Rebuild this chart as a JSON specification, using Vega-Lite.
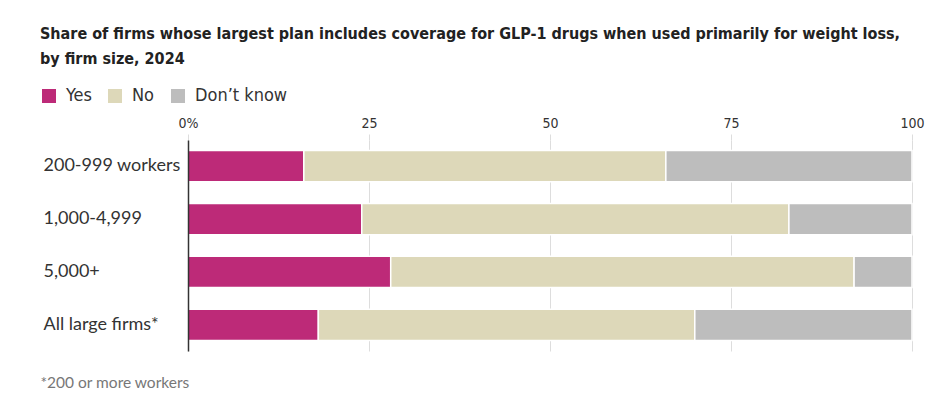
{
  "$schema": "https://vega.github.io/schema/vega-lite/v6.json",
  "width": 724,
  "height": 211,
  "autosize": {"type": "none"},
  "padding": {"left": 188, "top": 140, "right": 26, "bottom": 68},
  "background": "white",
  "title": {
    "text": ["Share of firms whose largest plan includes coverage for GLP-1 drugs when used primarily for weight loss,", "by firm size, 2024"],
    "anchor": "start",
    "frame": "group",
    "dx": -148,
    "offset": 20,
    "font": "DejaVu Sans Condensed",
    "fontSize": 16,
    "fontWeight": "bold",
    "color": "#222222",
    "lineHeight": 25
  },
  "data": {
    "values": [
      {"size": "200-999 workers", "answer": "Yes", "value": 16, "ord": 1},
      {"size": "200-999 workers", "answer": "No", "value": 50, "ord": 2},
      {"size": "200-999 workers", "answer": "Don’t know", "value": 34, "ord": 3},
      {"size": "1,000-4,999", "answer": "Yes", "value": 24, "ord": 1},
      {"size": "1,000-4,999", "answer": "No", "value": 59, "ord": 2},
      {"size": "1,000-4,999", "answer": "Don’t know", "value": 17, "ord": 3},
      {"size": "5,000+", "answer": "Yes", "value": 28, "ord": 1},
      {"size": "5,000+", "answer": "No", "value": 64, "ord": 2},
      {"size": "5,000+", "answer": "Don’t know", "value": 8, "ord": 3},
      {"size": "All large firms*", "answer": "Yes", "value": 18, "ord": 1},
      {"size": "All large firms*", "answer": "No", "value": 52, "ord": 2},
      {"size": "All large firms*", "answer": "Don’t know", "value": 30, "ord": 3}
    ]
  },
  "mark": {"type": "bar", "stroke": "white", "strokeWidth": 1.5},
  "encoding": {
    "y": {
      "field": "size",
      "type": "nominal",
      "sort": ["200-999 workers", "1,000-4,999", "5,000+", "All large firms*"],
      "scale": {"paddingInner": 0.41, "paddingOuter": 0.2},
      "axis": {
        "zindex": 1,
        "title": "*200 or more workers",
        "titleAngle": 0,
        "titleAlign": "left",
        "titleBaseline": "middle",
        "titleX": -148,
        "titleY": 242,
        "titleFont": "Lato",
        "titleFontSize": 15.5,
        "titleFontWeight": "normal",
        "titleColor": "#777777",
        "ticks": false,
        "labelAlign": "left",
        "labelPadding": 145,
        "labelFont": "Lato",
        "labelFontSize": 18,
        "labelColor": "#333333",
        "domainColor": "#333333",
        "domainWidth": 1.5
      }
    },
    "x": {
      "field": "value",
      "type": "quantitative",
      "stack": "zero",
      "scale": {"domain": [0, 100], "nice": false},
      "axis": {
        "orient": "top",
        "title": null,
        "values": [0, 25, 50, 75, 100],
        "labelExpr": "datum.value == 0 ? '0%' : datum.label",
        "labelFont": "DejaVu Sans Condensed",
        "labelFontSize": 14,
        "labelColor": "#333333",
        "labelPadding": 4,
        "domain": false,
        "grid": true,
        "gridColor": "#dddddd",
        "tickColor": "#dddddd",
        "tickSize": 6,
        "labelFlush": false
      }
    },
    "color": {
      "field": "answer",
      "type": "nominal",
      "scale": {"domain": ["Yes", "No", "Don’t know"], "range": ["#bd2a78", "#ddd8b9", "#bdbdbd"]},
      "legend": {
        "title": null,
        "orient": "none",
        "legendX": -148,
        "legendY": -53,
        "direction": "horizontal",
        "symbolType": "square",
        "symbolSize": 196,
        "symbolStrokeWidth": 0,
        "labelFont": "DejaVu Sans Condensed",
        "labelFontSize": 18,
        "labelColor": "#333333",
        "labelOffset": 8,
        "columnPadding": 14
      }
    },
    "order": {"field": "ord", "type": "quantitative"}
  },
  "config": {"view": {"stroke": null}}
}
